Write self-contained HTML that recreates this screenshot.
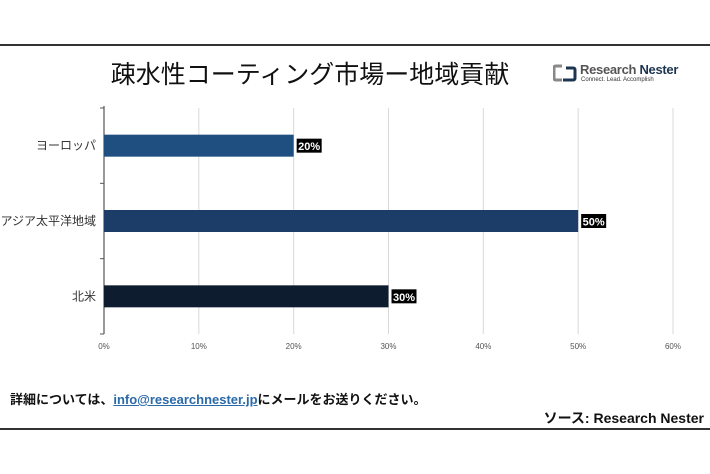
<!DOCTYPE html>
<html><head><meta charset="utf-8"><style>
body{margin:0;width:710px;height:474px;background:#fff;font-family:"Liberation Sans","Noto Sans CJK JP",sans-serif;overflow:hidden;position:relative}
.abs{position:absolute}
</style></head><body>
<div class="abs" style="left:0;top:44px;width:710px;height:2px;background:#333"></div>
<div class="abs" style="left:0;top:58px;width:620px;text-align:center;font-size:25px;color:#111;line-height:34px">疎水性コーティング市場ー地域貢献</div>
<div class="abs" style="left:553px;top:62px;width:160px;height:24px">
<svg width="24" height="18" style="position:absolute;left:0;top:2px"><path d="M9 2H3Q1 2 1 4V14Q1 16 3 16H9" stroke="#888" stroke-width="3" fill="none"/><path d="M13 4H20Q22 4 22 6V14Q22 16 20 16H10" stroke="#1d3550" stroke-width="3" fill="none"/></svg>
<div class="abs" style="left:27px;top:0;font-size:13px;color:#555;white-space:nowrap;font-weight:bold;letter-spacing:-0.3px">Research <span style="color:#1d3550">Nester</span></div>
<div class="abs" style="left:28px;top:15px;font-size:6px;color:#333;white-space:nowrap">Connect. Lead. Accomplish</div>
</div>
<svg id="chart" class="abs" style="left:0;top:0" width="710" height="474"></svg>
<div class="abs" style="left:10px;top:389px;font-size:13px;font-weight:bold;color:#111;white-space:nowrap">詳細については、<span style="color:#2a6aa8;text-decoration:underline">info@researchnester.jp</span>にメールをお送りください。</div>
<div class="abs" style="right:6px;top:408px;font-size:14px;font-weight:bold;color:#111;white-space:nowrap">ソース: Research Nester</div>
<div class="abs" style="left:0;top:428px;width:710px;height:2px;background:#333"></div>
<script>
const categories=["ヨーロッパ","アジア太平洋地域","北米"];
const values=[20,50,30];
const colors=["#1f4f80","#1b3d68","#0e1c2f"];
const ticks=[0,10,20,30,40,50,60];
const tickLabels=["0%","10%","20%","30%","40%","50%","60%"];
const svg=document.getElementById('chart');
const NS="http://www.w3.org/2000/svg";
const x0=104,x1=673,yTop=108,yBot=334;
const xs=v=>x0+(v-0)/(60-0)*(x1-x0);
const band=(yBot-yTop)/categories.length;
function mk(t,a){const e=document.createElementNS(NS,t);for(const k in a)e.setAttribute(k,a[k]);svg.appendChild(e);return e;}
ticks.forEach((t,i)=>{
 if(i>0){const g=mk('line',{x1:xs(t),x2:xs(t),y1:yTop,y2:yBot,stroke:'#d9d9d9','stroke-width':1});
 
 }
 const l=mk('text',{x:xs(t),y:349,'text-anchor':'middle','font-size':8,fill:'#555'});
 l.textContent=tickLabels[i];
 
 
});
const ax=mk('line',{x1:x0,x2:x0,y1:yTop-2,y2:yBot,stroke:'#555','stroke-width':1.2});


for(let i=0;i<=categories.length;i++){
 const tk=mk('line',{x1:x0-4,x2:x0,y1:yTop+band*i,y2:yTop+band*i,stroke:'#555','stroke-width':1});
 
 
}
categories.forEach((c,i)=>{
 const cy=yTop+band*(i+0.5);
 const bh=22;
 const r=mk('rect',{x:x0,y:cy-bh/2,width:xs(values[i])-x0,height:bh,fill:colors[i]});
 
 
 const lab=mk('text',{x:x0-8,y:cy+4,'text-anchor':'end','font-size':12,fill:'#333'});
 lab.textContent=c;
 
 
 const bx=xs(values[i])+3;
 const bg=mk('rect',{x:bx,y:cy-7,width:25,height:14,fill:'#000'});
 
 
 const vt=mk('text',{x:bx+12.5,y:cy+4.5,'text-anchor':'middle','font-size':11,'font-weight':'bold',fill:'#fff'});
 vt.textContent=values[i]+'%';
 
 
});
</script>
</body></html>
